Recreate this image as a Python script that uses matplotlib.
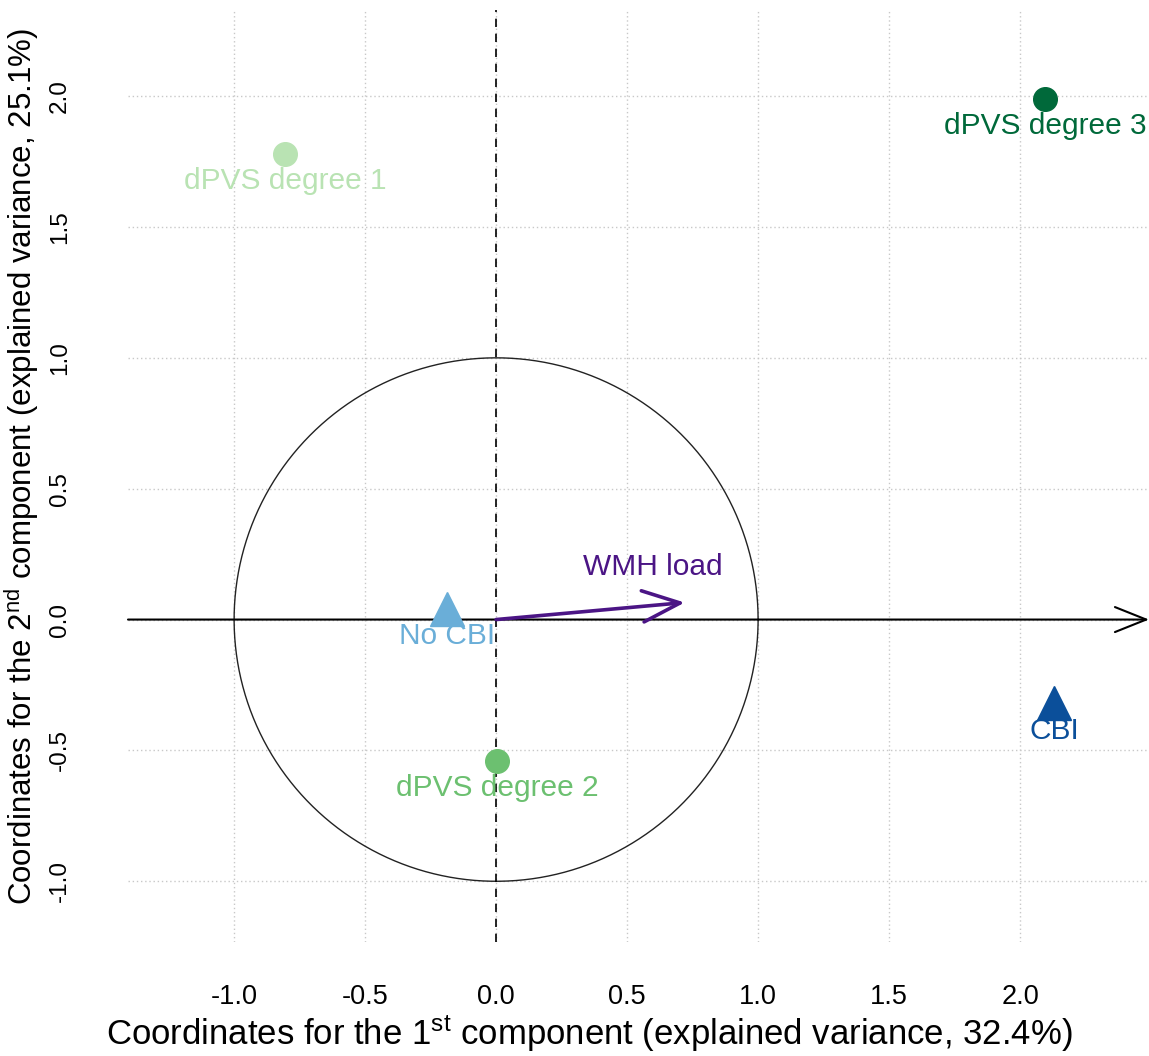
import matplotlib
matplotlib.use("Agg")
import matplotlib.pyplot as plt
import numpy as np

plt.rcParams['font.family'] = ['Liberation Sans', 'DejaVu Sans']
plt.rcParams['mathtext.fontset'] = 'custom'
plt.rcParams['mathtext.rm'] = 'Liberation Sans'
plt.rcParams['mathtext.it'] = 'Liberation Sans'

# Data
point_labels = ["dPVS degree 1", "dPVS degree 2", "dPVS degree 3", "No CBI", "CBI"]
point_x = [-0.805, 0.004, 2.095, -0.187, 2.13]
point_y = [1.78, -0.54, 1.99, 0.042, -0.32]
point_markers = ["o", "o", "o", "^", "^"]
point_colors = ["#b9e3b3", "#6cc070", "#00693a", "#6aaed8", "#0b4f9a"]

arrow_label = "WMH load"
arrow_x = 0.72
arrow_y = 0.065
arrow_color = "#4b1585"

xticks = [-1.0, -0.5, 0.0, 0.5, 1.0, 1.5, 2.0]
yticks = [-1.0, -0.5, 0.0, 0.5, 1.0, 1.5, 2.0]

W, H = 1149, 1056
fig = plt.figure(figsize=(W / 100, H / 100), dpi=100)
left, right, top, bottom = 128, 1149, 10, 942
ax = fig.add_axes([left / W, 1 - bottom / H, (right - left) / W, (bottom - top) / H])

xlim = (-1.405, 2.492)
ylim = (-1.232, 2.329)
ax.set_xlim(*xlim)
ax.set_ylim(*ylim)

for s in ax.spines.values():
    s.set_visible(False)
ax.tick_params(length=0)
ax.set_xticks(xticks)
ax.set_yticks(yticks)
ax.set_xticklabels([f"{t:.1f}" for t in xticks], fontsize=19.5)
ax.set_yticklabels([f"{t:.1f}" for t in yticks], fontsize=17.5, rotation=90, va='center')
ax.tick_params(axis='x', pad=30)
ax.tick_params(axis='y', pad=41)
ax.grid(True, color='#c8c8c8', linestyle=(0, (1, 2)), linewidth=1.0)
ax.set_axisbelow(True)

# unit circle
theta = np.linspace(0, 2 * np.pi, 400)
ax.plot(np.cos(theta), np.sin(theta), color='#222222', linewidth=1.0, zorder=2)

# dashed vertical line
ax.axvline(0, color='black', linestyle=(0, (5, 4)), linewidth=1.2, zorder=2)

# horizontal axis arrow
ax.annotate("", xy=(xlim[1], 0), xytext=(xlim[0], 0),
            arrowprops=dict(arrowstyle="->,head_length=0.5,head_width=0.2",
                            mutation_scale=45, color='black', lw=1.5,
                            shrinkA=0, shrinkB=0), zorder=3)

# WMH load arrow
ax.annotate("", xy=(arrow_x, arrow_y), xytext=(0, 0),
            arrowprops=dict(arrowstyle="->,head_length=0.6,head_width=0.25",
                            mutation_scale=45, color=arrow_color, lw=2.6,
                            shrinkA=0, shrinkB=0), zorder=4)
ax.text(arrow_x * 0.83, arrow_y + 0.135, arrow_label, color=arrow_color,
        fontsize=21.5, ha='center', va='center', zorder=5)

# points
for lab, x, y, m, c in zip(point_labels, point_x, point_y, point_markers, point_colors):
    ms = 17 if m == "o" else 24
    ax.plot([x], [y], marker=m, color=c, markersize=ms, linestyle='none', zorder=5)
    ax.text(x, y - 0.105, lab, color=c, fontsize=21.5, ha='center', va='center', zorder=6)

fig.text(589 / W, 1 - 1034 / H,
         r"Coordinates for the 1$^{\mathrm{st}}$ component (explained variance, 32.4%)",
         fontsize=25, ha='center', va='center')
fig.text(22 / W, 1 - 467 / H,
         r"Coordinates for the 2$^{\mathrm{nd}}$ component (explained variance, 25.1%)",
         fontsize=22.5, ha='center', va='center', rotation=90)

fig.savefig("out.png", dpi=100)
